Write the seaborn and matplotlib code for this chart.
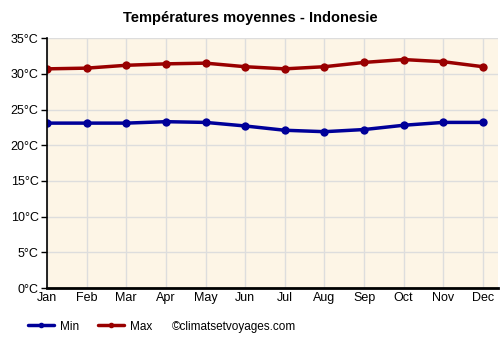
import matplotlib
matplotlib.use("Agg")
import matplotlib.pyplot as plt
import seaborn as sns
import pandas as pd

months = ["Jan", "Feb", "Mar", "Apr", "May", "Jun", "Jul", "Aug", "Sep", "Oct", "Nov", "Dec"]
temp_min = [23.1, 23.1, 23.1, 23.3, 23.2, 22.7, 22.1, 21.9, 22.2, 22.8, 23.2, 23.2]
temp_max = [30.7, 30.8, 31.2, 31.4, 31.5, 31.0, 30.7, 31.0, 31.6, 32.0, 31.7, 31.0]
yticks = [0, 5, 10, 15, 20, 25, 30, 35]

sns.set_style("white")
plt.rcParams['font.family'] = ['Liberation Sans', 'DejaVu Sans']
plt.rcParams['text.color'] = 'black'
plt.rcParams['xtick.color'] = 'black'
plt.rcParams['ytick.color'] = 'black'

df = pd.DataFrame({
    "x": list(range(12)) * 2,
    "temp": temp_min + temp_max,
    "serie": ["Min"] * 12 + ["Max"] * 12,
})

fig = plt.figure(figsize=(5, 3.5), dpi=100)
ax = fig.add_axes([0.094, 0.177, 0.902, 0.714])
ax.set_facecolor("#fdf5e6")

sns.lineplot(data=df, x="x", y="temp", hue="serie",
             palette={"Min": "#000099", "Max": "#990000"},
             marker="o", markersize=6, markeredgewidth=0, linewidth=2.5,
             legend=False, ax=ax)

ax.set_xlim(0, 11.38)
ax.set_ylim(0, 35)
ax.set_xticks(range(12))
ax.set_xticklabels(months)
ax.set_yticks(yticks)
ax.set_yticklabels([f"{v}°C" for v in yticks])
ax.grid(True, color="#dddddd", linewidth=1)
ax.set_axisbelow(True)
for s in ["top", "right"]:
    ax.spines[s].set_visible(False)
ax.spines["left"].set_color("black")
ax.spines["bottom"].set_color("black")
ax.spines["left"].set_linewidth(1.2)
ax.spines["bottom"].set_linewidth(2)
ax.tick_params(axis="y", length=4, width=1, color="black", labelsize=9, pad=2, left=True)
ax.tick_params(axis="x", length=0, labelsize=9, pad=3)
ax.set_xlabel("")
ax.set_ylabel("")

fig.text(0.5, 0.948, "Températures moyennes - Indonesie", ha="center", va="center",
         fontsize=10.5, fontweight="bold", color="black")

# Legend
from matplotlib.lines import Line2D
handles = [Line2D([0], [0], color="#000099", lw=2.5, marker="o", markersize=3),
           Line2D([0], [0], color="#990000", lw=2.5, marker="o", markersize=3)]
fig.legend(handles, ["Min", "Max"], loc="center left", bbox_to_anchor=(0.035, 0.067),
           ncol=2, frameon=False, fontsize=8.5, handlelength=2.2, columnspacing=1.6,
           handletextpad=0.5)
fig.text(0.343, 0.067, "©climatsetvoyages.com", ha="left", va="center", fontsize=8.5)

fig.savefig("out.png", dpi=100)
